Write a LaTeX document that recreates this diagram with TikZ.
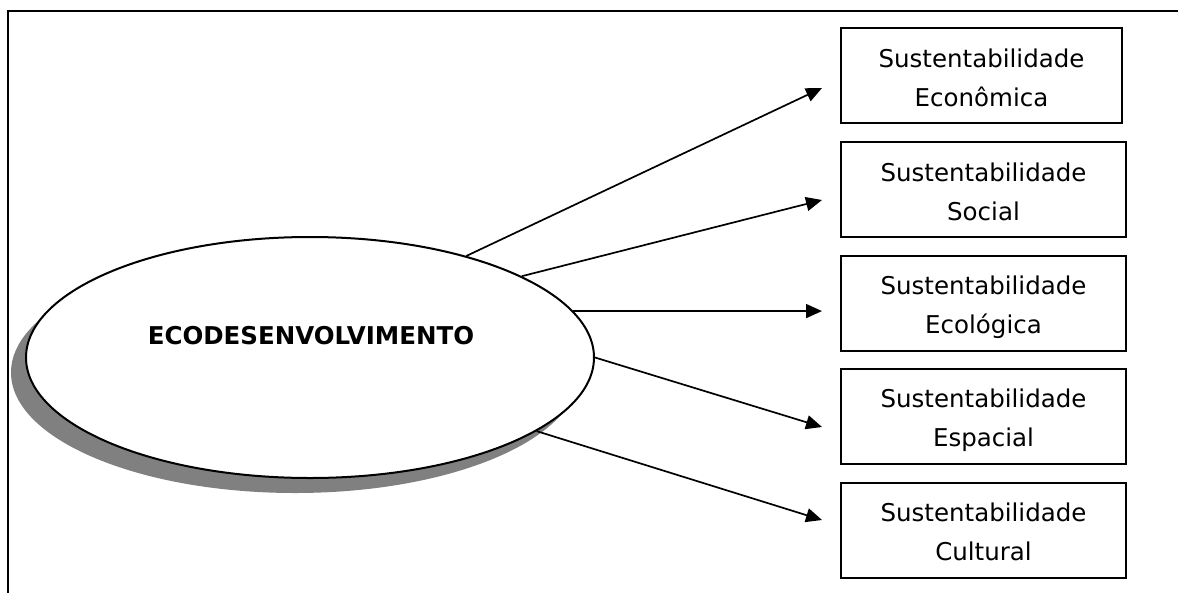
\documentclass[tikz,border=0pt]{standalone}
\usepackage{fontspec}
\setmainfont{DejaVu Sans}
\usetikzlibrary{shapes.geometric,arrows.meta}
\newcommand{\boxstrut}{\rule[-6pt]{0pt}{34pt}}
\definecolor{shadowgray}{RGB}{128,128,128}
\begin{document}
\begin{tikzpicture}[x=1pt,y=-1pt,
  frame/.style={line width=2pt},
  sbox/.style={draw, line width=2pt, minimum width=285pt, minimum height=95pt,
    inner sep=0pt, align=center, font=\fontsize{24.5}{39}\selectfont},
  conn/.style={line width=1.7pt, -{Triangle[length=16pt,width=14pt]}},
  ellbase/.style={ellipse, minimum width=568pt, minimum height=241pt, inner sep=0pt}
  ]
\useasboundingbox (0,0) rectangle (1178,592);
% frame (only top and left edges are visible)
\coordinate (fbl) at (8,600);
\coordinate (ftl) at (8,11);
\coordinate (ftr) at (1190,11);
\draw[frame] (fbl) -- (ftl) -- (ftr);

% shadow and ellipse
\node (shadow) [ellbase, fill=shadowgray] at (295,372.5) {};
\node (eco) [ellbase, draw, fill=white, line width=2pt] at (310,357.5) {};
\node (ecotext) at (311,336) {\fontsize{24.5}{30}\selectfont\bfseries ECODESENVOLVIMENTO};

% boxes
\node (b1) [sbox, minimum width=281pt] at (981.5,75.5) {\boxstrut Sustentabilidade\\\boxstrut Econômica};
\node (b2) [sbox] at (983.5,189.5) {\boxstrut Sustentabilidade\\\boxstrut Social};
\node (b3) [sbox] at (983.5,303) {\boxstrut Sustentabilidade\\\boxstrut Ecológica};
\node (b4) [sbox] at (983.5,416) {\boxstrut Sustentabilidade\\\boxstrut Espacial};
\node (b5) [sbox] at (983.5,530) {\boxstrut Sustentabilidade\\\boxstrut Cultural};

% arrow tips
\coordinate (t1) at ([xshift=-18pt,yshift=-12.5pt]b1.west);
\coordinate (t2) at ([xshift=-18pt,yshift=-10.5pt]b2.west);
\coordinate (t3) at ([xshift=-18pt,yshift=-9.7pt]b3.west);
\coordinate (t4) at ([xshift=-18pt,yshift=-11pt]b4.west);
\coordinate (t5) at ([xshift=-18pt,yshift=10pt]b5.west);

% connectors
\draw[conn] (eco.33.7) -- (t1);
\draw[conn] (eco.21.8) -- (t2);
\draw[conn] (eco.10) -- (eco.10 -| t3);
\draw[conn] (eco.-0.3) -- (t4);
\draw[conn] (eco.-18.5) -- (t5);
\end{tikzpicture}
\end{document}
